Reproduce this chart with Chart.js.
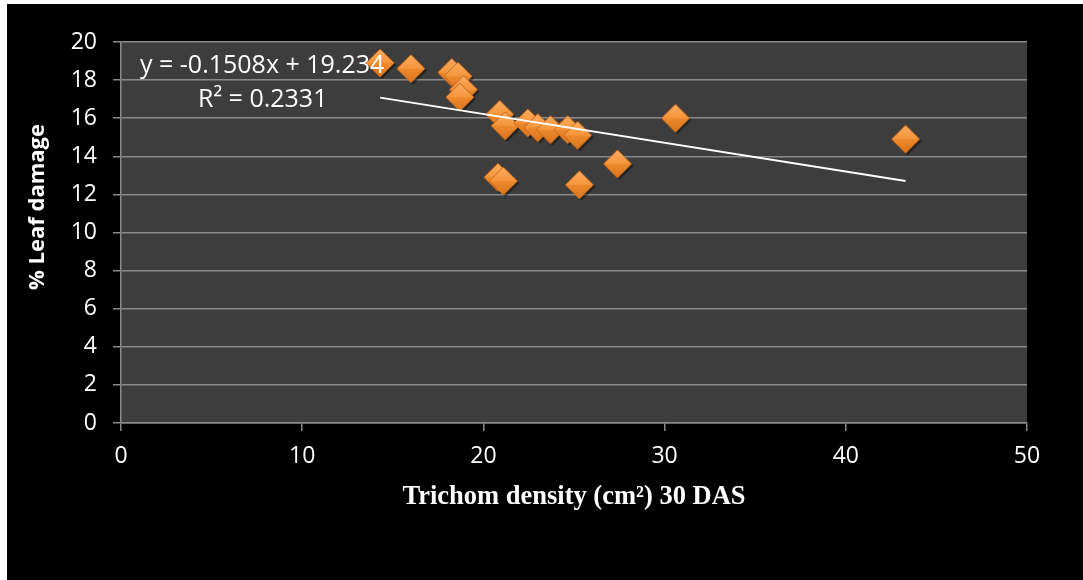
<!DOCTYPE html>
<html>
<head>
<meta charset="utf-8">
<script src="https://cdn.jsdelivr.net/npm/chart.js@4"></script>
<style>
  html, body { margin: 0; padding: 0; background: #ffffff; }
  #wrap { position: absolute; left: 7px; top: 4px; width: 1076px; height: 576px; background: #000000; }
</style>
</head>
<body>
<div id="wrap"><canvas id="scatterChart" width="1076" height="576"></canvas></div>
<script>
// Trichome density (x) vs % leaf damage (y)
const trichomeDensity = [14.3, 16.0, 18.25, 18.6, 18.9, 18.7, 20.9, 21.2, 20.8, 21.1, 22.45, 23.0, 23.7, 24.65, 25.2, 25.3, 27.4, 30.6, 43.3];
const leafDamage      = [18.9, 18.6, 18.4, 18.2, 17.5, 17.1, 16.2, 15.6, 12.9, 12.7, 15.75, 15.5, 15.4, 15.4, 15.1, 12.5, 13.6, 16.0, 14.9];

// Linear trend line end points
const trendX = [14.3, 43.3];
const trendY = [17.08, 12.70];

const xTicks = [0, 10, 20, 30, 40, 50];
const yTicks = [0, 2, 4, 6, 8, 10, 12, 14, 16, 18, 20];

const equationText = 'y = -0.1508x + 19.234';
const r2Text = 'R² = 0.2331';
const xTitle = 'Trichom density (cm²) 30 DAS';
const yTitle = '% Leaf damage';

// 3D-ish orange diamond marker
function makeDiamond() {
    const c = document.createElement('canvas');
    c.width = 36; c.height = 36;
    const g = c.getContext('2d');
    const cx = 18, cy = 18, r = 14;
    // shadow
    g.fillStyle = 'rgba(0,0,0,0.45)';
    g.beginPath();
    g.moveTo(cx + 2, cy - r + 2); g.lineTo(cx + r + 2, cy + 2);
    g.lineTo(cx + 2, cy + r + 2); g.lineTo(cx - r + 2, cy + 2);
    g.closePath(); g.fill();
    // top half
    let grad = g.createLinearGradient(cx, cy - r, cx, cy);
    grad.addColorStop(0, '#fbae62');
    grad.addColorStop(1, '#f6953b');
    g.fillStyle = grad;
    g.beginPath();
    g.moveTo(cx, cy - r); g.lineTo(cx + r, cy); g.lineTo(cx - r, cy);
    g.closePath(); g.fill();
    // bottom half
    grad = g.createLinearGradient(cx, cy, cx, cy + r);
    grad.addColorStop(0, '#ee8a2e');
    grad.addColorStop(1, '#d9741d');
    g.fillStyle = grad;
    g.beginPath();
    g.moveTo(cx - r, cy); g.lineTo(cx + r, cy); g.lineTo(cx, cy + r);
    g.closePath(); g.fill();
    // edge
    g.strokeStyle = '#c4681c';
    g.lineWidth = 1;
    g.beginPath();
    g.moveTo(cx, cy - r); g.lineTo(cx + r, cy); g.lineTo(cx, cy + r); g.lineTo(cx - r, cy);
    g.closePath(); g.stroke();
    return c;
}

const plotBackground = {
    id: 'plotBackground',
    beforeDraw(chart) {
        const { ctx, chartArea: a } = chart;
        ctx.save();
        ctx.fillStyle = '#3d3d3d';
        ctx.fillRect(a.left, a.top, a.right - a.left, a.bottom - a.top);
        ctx.restore();
    }
};

const annotations = {
    id: 'annotations',
    afterDatasetsDraw(chart) {
        const { ctx, chartArea: a } = chart;
        ctx.save();
        ctx.fillStyle = '#ffffff';
        ctx.textBaseline = 'middle';
        ctx.textAlign = 'left';
        ctx.font = "25px 'Open Sans'";
        ctx.fillText(equationText, 133, 62);
        ctx.fillText(r2Text, 191, 96);
        // x title
        ctx.font = "bold 26.5px 'Liberation Serif'";
        ctx.textAlign = 'center';
        ctx.fillText(xTitle, (a.left + a.right) / 2, 493);
        // y title
        ctx.translate(31, 203);
        ctx.rotate(-Math.PI / 2);
        ctx.font = "bold 22px 'Open Sans'";
        ctx.fillText(yTitle, 0, 0);
        ctx.restore();
    }
};

document.addEventListener('DOMContentLoaded', () => {
    Chart.defaults.font.family = "'Open Sans', sans-serif";
    Chart.defaults.color = '#ffffff';

    const ctx = document.getElementById('scatterChart').getContext('2d');
    const diamond = makeDiamond();

    new Chart(ctx, {
        type: 'scatter',
        data: {
            datasets: [
                {
                    label: 'Trend',
                    data: trendX.map((x, i) => ({ x: x, y: trendY[i] })),
                    showLine: true,
                    borderColor: '#ffffff',
                    borderWidth: 2,
                    pointRadius: 0,
                    order: 0
                },
                {
                    label: '% Leaf damage',
                    data: trichomeDensity.map((x, i) => ({ x: x, y: leafDamage[i] })),
                    pointStyle: diamond,
                    pointRadius: 14,
                    order: 1
                }
            ]
        },
        options: {
            responsive: false,
            animation: false,
            events: [],
            layout: { padding: { top: 38, right: 56, left: 0, bottom: 0 } },
            plugins: { legend: { display: false }, tooltip: { enabled: false } },
            scales: {
                x: {
                    type: 'linear',
                    min: 0, max: 50,
                    afterBuildTicks: s => { s.ticks = xTicks.map(v => ({ value: v })); },
                    afterFit: s => { s.height = 157; },
                    grid: { display: true, drawOnChartArea: false, drawTicks: true, tickLength: 8, color: '#8a8a8a', lineWidth: 1.5 },
                    border: { color: '#8a8a8a', width: 1.5 },
                    ticks: { color: '#ffffff', font: { size: 23 }, padding: 12 }
                },
                y: {
                    type: 'linear',
                    min: 0, max: 20,
                    afterBuildTicks: s => { s.ticks = yTicks.map(v => ({ value: v })); },
                    afterFit: s => { s.width = 114; },
                    grid: { color: '#8a8a8a', lineWidth: 1.5, tickLength: 8 },
                    border: { color: '#8a8a8a', width: 1.5 },
                    ticks: { color: '#ffffff', font: { size: 23 }, padding: 16 }
                }
            }
        },
        plugins: [plotBackground, annotations]
    });
});
</script>
</body>
</html>
